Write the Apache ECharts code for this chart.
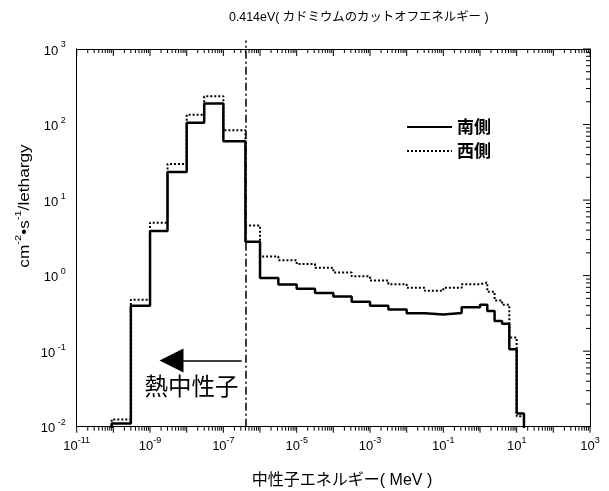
<!DOCTYPE html>
<html><head><meta charset="utf-8">
<script src="https://cdn.jsdelivr.net/npm/echarts@6/dist/echarts.min.js"></script>
<style>html,body{margin:0;padding:0;background:#fff}#c{width:609px;height:491px}</style>
</head><body><div id="c"></div>
<script>
// Histogram bin edges (MeV)
const binEdges = [9e-11, 3e-10, 1e-9, 3e-9, 1e-8, 3e-8, 1e-7, 4e-7,
  1e-6, 3.16e-6, 1e-5, 3.16e-5, 1e-4, 3.16e-4, 1e-3, 3.16e-3, 1e-2, 3.16e-2, 0.1, 0.316, 1,
  1.58, 2.5, 4, 6.3, 10, 15.8];
// flux per lethargy in each bin
const southValues = [0.011, 0.40, 3.9, 23.6, 106, 190, 60, 2.8,
  0.93, 0.76, 0.67, 0.59, 0.53, 0.45, 0.40, 0.356, 0.318, 0.305, 0.32, 0.38,
  0.41, 0.34, 0.25, 0.23, 0.106, 0.015];
const westValues = [0.0125, 0.48, 5.0, 30, 135, 236, 84, 4.6,
  1.79, 1.6, 1.42, 1.27, 1.10, 0.98, 0.86, 0.77, 0.69, 0.63, 0.69, 0.77,
  0.81, 0.61, 0.47, 0.41, 0.152, 0.0137];
const seriesNames = ['南側', '西側'];
const cutoffEnergy = 4.14e-7;
const arrowFrom = [3.16e-7, 0.075];
const arrowTo = [3.85e-9, 0.075];
const thermalLabelPos = [1.35e-8, 0.0346];
const xLabelExponents = [-11, -9, -7, -5, -3, -1, 1, 3];
const yLabelExponents = [-2, -1, 0, 1, 2, 3];
const xRange = [-11, 3];
const yRange = [-2, 3];

const FLOOR = 1e-4;
function stepPoints(values) {
  const pts = [[binEdges[0], FLOOR]];
  for (let i = 0; i < values.length; i++) {
    pts.push([binEdges[i], values[i]]);
    pts.push([binEdges[i + 1], values[i]]);
  }
  pts.push([binEdges[binEdges.length - 1], FLOOR]);
  return pts;
}
function p10(e) { return Number('1e' + e); }
function tickList(r) {
  const out = [];
  for (let e = r[0]; e <= r[1]; e++) {
    out.push([p10(e), true]);
    if (e < r[1]) for (let m = 2; m <= 9; m++) out.push([m * p10(e), false]);
  }
  return out;
}

const FONT = "'Liberation Sans', 'Noto Sans CJK JP', sans-serif";
const rich = {
  b: { fontSize: 13, fontFamily: FONT, color: '#000', lineHeight: 17, verticalAlign: 'bottom' },
  s: { fontSize: 9, fontFamily: FONT, color: '#000', lineHeight: 10, verticalAlign: 'top' }
};
function fmtX(v) { const e = Math.round(Math.log10(v)); return '{b|10}{s|' + e + '}'; }
function fmtY(v) { const e = Math.round(Math.log10(v)); return '{b|10}{s| ' + e + '}'; }

function axis(dir, pos, labelVals) {
  const r = dir === 'x' ? xRange : yRange;
  return {
    type: 'log', logBase: 10, min: p10(r[0]), max: p10(r[1]), position: pos,
    axisLine: { show: true, onZero: false, lineStyle: { color: '#000', width: 1 } },
    axisTick: { show: false },
    minorTick: { show: false },
    splitLine: { show: false },
    axisLabel: labelVals ? {
      show: true, customValues: labelVals, formatter: dir === 'x' ? fmtX : fmtY,
      rich: rich, margin: dir === 'x' ? 9 : 11
    } : { show: false }
  };
}

// Tick segments expressed in data space: a tick's far end is len pixels away,
// converted to decades using the axis' pixels-per-decade.
const grid = { left: 76.7, right: 19, top: 49, bottom: 64.3 };
const plotW = 609 - grid.left - grid.right, plotH = 491 - grid.top - grid.bottom;
const pxPerDecX = plotW / (xRange[1] - xRange[0]);
const pxPerDecY = plotH / (yRange[1] - yRange[0]);
function tickSeriesData(side) {
  const out = [];
  const isX = side === 'bottom' || side === 'top';
  tickList(isX ? xRange : yRange).forEach(([v, major]) => {
    const len = major ? (side === 'bottom' || side === 'left' ? 6 : 7) : 4;
    if (side === 'bottom') { out.push([v, p10(yRange[0])], [v, Math.pow(10, yRange[0] - len / pxPerDecY)]); }
    if (side === 'top') { out.push([v, p10(yRange[1])], [v, Math.pow(10, yRange[1] - len / pxPerDecY)]); }
    if (side === 'left') { out.push([p10(xRange[0]), v], [Math.pow(10, xRange[0] - len / pxPerDecX), v]); }
    if (side === 'right') { out.push([p10(xRange[1]), v], [Math.pow(10, xRange[1] - len / pxPerDecX), v]); }
    out.push(['-', '-']);
  });
  return out;
}
function tickSeries(side) {
  return { name: 'tick-' + side, type: 'line', data: tickSeriesData(side), symbol: 'none', silent: true,
    xAxisIndex: 0, yAxisIndex: 0, clip: false, connectNulls: false, legendHoverLink: false,
    lineStyle: { color: '#000', width: 1 }, z: 5 };
}

const chart = echarts.init(document.getElementById('c'), null, { renderer: 'canvas' });
chart.setOption({
  animation: false,
  backgroundColor: '#fff',
  title: {
    text: '0.414eV( カドミウムのカットオフエネルギー )',
    left: 229, top: 11, padding: 0,
    textStyle: { fontSize: 12.4, fontWeight: 'normal', color: '#000', fontFamily: FONT }
  },
  grid: { left: grid.left, right: grid.right, top: grid.top, bottom: grid.bottom, containLabel: false },
  legend: {
    data: seriesNames, orient: 'vertical', left: 406, top: 118, padding: 0,
    itemWidth: 45, itemHeight: 12, itemGap: 6,
    itemStyle: { opacity: 0, color: 'rgba(0,0,0,0)', borderWidth: 0 },
    textStyle: { fontSize: 17, fontWeight: 'bold', lineHeight: 18, color: '#000', fontFamily: "'Noto Sans CJK JP', sans-serif" }
  },
  xAxis: [ axis('x', 'bottom', xLabelExponents.map(p10)), axis('x', 'top', null) ],
  yAxis: [ axis('y', 'left', yLabelExponents.map(p10)), axis('y', 'right', null) ],
  graphic: { elements: [
    { type: 'text', x: 23, y: 206, rotation: Math.PI / 2, scaleX: 1.23, scaleY: 1, silent: true,
      style: { text: '{a|cm}{s|-2}{a|•s}{s|-1}{a|/lethargy}', align: 'center', verticalAlign: 'middle',
        rich: { a: { fontSize: 14, fontFamily: FONT, fill: '#000', lineHeight: 18, verticalAlign: 'bottom' },
                s: { fontSize: 9, fontFamily: FONT, fill: '#000', lineHeight: 10, verticalAlign: 'top' } } } },
    { type: 'text', x: 342, y: 481, silent: true,
      style: { text: '中性子エネルギー( MeV )', align: 'center', verticalAlign: 'middle',
        fontSize: 16, fontFamily: FONT, fill: '#000' } }
  ] },
  series: [
    { name: seriesNames[0], type: 'line', data: stepPoints(southValues), symbol: 'none',
      xAxisIndex: 0, yAxisIndex: 0, clip: true,
      lineStyle: { color: '#000', width: 2.5, type: 'solid' }, itemStyle: { color: '#000' } },
    { name: seriesNames[1], type: 'line', data: stepPoints(westValues), symbol: 'none',
      xAxisIndex: 0, yAxisIndex: 0, clip: true,
      lineStyle: { color: '#000', width: 2, type: [2, 2] }, itemStyle: { color: '#000' } },
    { name: 'cutoff', type: 'line', symbol: 'none', xAxisIndex: 0, yAxisIndex: 0, clip: false,
      data: [[cutoffEnergy, p10(yRange[0])], [cutoffEnergy, 1300]],
      lineStyle: { color: '#000', width: 1.5, type: [8, 3, 2, 3] },
      markLine: {
        silent: true, symbol: ['none', 'triangle'], symbolSize: 24, animation: false,
        label: { show: false },
        lineStyle: { color: '#000', width: 1.5, type: 'solid' },
        itemStyle: { color: '#000' },
        data: [[{ coord: arrowFrom }, { coord: arrowTo }]]
      },
      markPoint: {
        silent: true, symbol: 'circle', symbolSize: 0, animation: false,
        data: [{ coord: thermalLabelPos, value: '熱中性子' }],
        label: { show: true, position: 'inside', formatter: '熱中性子', fontSize: 23.5, color: '#000',
          fontFamily: "'Noto Sans CJK JP', sans-serif" }
      }
    },
    tickSeries('bottom'), tickSeries('top'), tickSeries('left'), tickSeries('right')
  ]
});
</script></body></html>
